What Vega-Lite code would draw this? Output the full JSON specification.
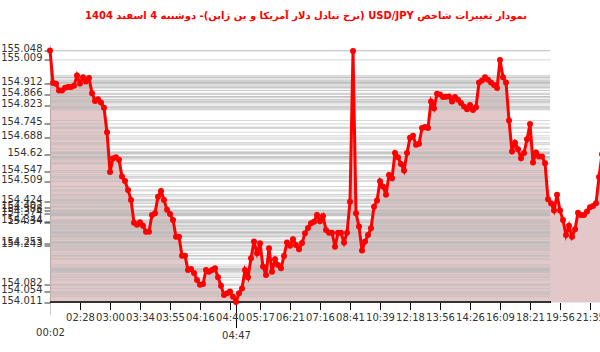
{
  "$schema": "https://vega.github.io/schema/vega-lite/v6.json",
  "width": 550,
  "height": 258,
  "autosize": {"type": "none"},
  "padding": {"left": 50, "top": 44.5, "right": 0, "bottom": 49.5},
  "background": "white",
  "title": {
    "text": "\u202Bنمودار تغییرات شاخص USD/JPY (نرخ تبادل دلار آمریکا و ین ژاپن)- دوشنبه  4 اسفند 1404\u202C",
    "color": "#ff0000",
    "font": "DejaVu Sans",
    "fontSize": 10,
    "fontWeight": "bold",
    "anchor": "middle",
    "baseline": "bottom",
    "dx": -19,
    "offset": 12
  },
  "config": {
    "view": {"stroke": null},
    "axis": {"labelFont": "DejaVu Sans", "labelFontSize": 10, "labelColor": "#333333", "labelOverlap": false}
  },
  "data": {
    "values": [
      {"i": 0, "v": 155.048}, {"i": 1, "v": 154.914}, {"i": 2, "v": 154.911}, {"i": 3, "v": 154.883},
      {"i": 4, "v": 154.883}, {"i": 5, "v": 154.894}, {"i": 6, "v": 154.897}, {"i": 7, "v": 154.897},
      {"i": 8, "v": 154.902}, {"i": 9, "v": 154.945}, {"i": 10, "v": 154.912}, {"i": 11, "v": 154.937},
      {"i": 12, "v": 154.920}, {"i": 13, "v": 154.934}, {"i": 14, "v": 154.872}, {"i": 15, "v": 154.840},
      {"i": 16, "v": 154.847}, {"i": 17, "v": 154.833}, {"i": 18, "v": 154.812}, {"i": 19, "v": 154.711},
      {"i": 20, "v": 154.547}, {"i": 21, "v": 154.604}, {"i": 22, "v": 154.608}, {"i": 23, "v": 154.597},
      {"i": 24, "v": 154.528}, {"i": 25, "v": 154.510}, {"i": 26, "v": 154.473}, {"i": 27, "v": 154.432},
      {"i": 28, "v": 154.338}, {"i": 29, "v": 154.329}, {"i": 30, "v": 154.340}, {"i": 31, "v": 154.325},
      {"i": 32, "v": 154.301}, {"i": 33, "v": 154.301}, {"i": 34, "v": 154.370}, {"i": 35, "v": 154.377},
      {"i": 36, "v": 154.445}, {"i": 37, "v": 154.469}, {"i": 38, "v": 154.432}, {"i": 39, "v": 154.391},
      {"i": 40, "v": 154.374}, {"i": 41, "v": 154.349}, {"i": 42, "v": 154.280}, {"i": 43, "v": 154.280},
      {"i": 44, "v": 154.202}, {"i": 45, "v": 154.202}, {"i": 46, "v": 154.143}, {"i": 47, "v": 154.147},
      {"i": 48, "v": 154.131}, {"i": 49, "v": 154.102}, {"i": 50, "v": 154.082}, {"i": 51, "v": 154.085},
      {"i": 52, "v": 154.143}, {"i": 53, "v": 154.136}, {"i": 54, "v": 154.143}, {"i": 55, "v": 154.150},
      {"i": 56, "v": 154.113}, {"i": 57, "v": 154.078}, {"i": 58, "v": 154.040}, {"i": 59, "v": 154.047},
      {"i": 60, "v": 154.054}, {"i": 61, "v": 154.033}, {"i": 62, "v": 154.011}, {"i": 63, "v": 154.047},
      {"i": 64, "v": 154.067}, {"i": 65, "v": 154.143}, {"i": 66, "v": 154.113}, {"i": 67, "v": 154.191},
      {"i": 68, "v": 154.260}, {"i": 69, "v": 154.212}, {"i": 70, "v": 154.253}, {"i": 71, "v": 154.157},
      {"i": 72, "v": 154.122}, {"i": 73, "v": 154.233}, {"i": 74, "v": 154.136}, {"i": 75, "v": 154.187},
      {"i": 76, "v": 154.164}, {"i": 77, "v": 154.150}, {"i": 78, "v": 154.201}, {"i": 79, "v": 154.256},
      {"i": 80, "v": 154.243}, {"i": 81, "v": 154.270}, {"i": 82, "v": 154.246}, {"i": 83, "v": 154.228},
      {"i": 84, "v": 154.254}, {"i": 85, "v": 154.294}, {"i": 86, "v": 154.316}, {"i": 87, "v": 154.336},
      {"i": 88, "v": 154.342}, {"i": 89, "v": 154.370}, {"i": 90, "v": 154.344}, {"i": 91, "v": 154.366},
      {"i": 92, "v": 154.308}, {"i": 93, "v": 154.297}, {"i": 94, "v": 154.297}, {"i": 95, "v": 154.239},
      {"i": 96, "v": 154.297}, {"i": 97, "v": 154.297}, {"i": 98, "v": 154.256}, {"i": 99, "v": 154.297},
      {"i": 100, "v": 154.424}, {"i": 101, "v": 155.046}, {"i": 102, "v": 154.377}, {"i": 103, "v": 154.322},
      {"i": 104, "v": 154.223}, {"i": 105, "v": 154.260}, {"i": 106, "v": 154.287}, {"i": 107, "v": 154.315},
      {"i": 108, "v": 154.404}, {"i": 109, "v": 154.429}, {"i": 110, "v": 154.509}, {"i": 111, "v": 154.487},
      {"i": 112, "v": 154.453}, {"i": 113, "v": 154.535}, {"i": 114, "v": 154.521}, {"i": 115, "v": 154.625},
      {"i": 116, "v": 154.608}, {"i": 117, "v": 154.580}, {"i": 118, "v": 154.553}, {"i": 119, "v": 154.625},
      {"i": 120, "v": 154.688}, {"i": 121, "v": 154.696}, {"i": 122, "v": 154.659}, {"i": 123, "v": 154.663},
      {"i": 124, "v": 154.728}, {"i": 125, "v": 154.732}, {"i": 126, "v": 154.728}, {"i": 127, "v": 154.838},
      {"i": 128, "v": 154.810}, {"i": 129, "v": 154.869}, {"i": 130, "v": 154.866}, {"i": 131, "v": 154.856},
      {"i": 132, "v": 154.857}, {"i": 133, "v": 154.858}, {"i": 134, "v": 154.838}, {"i": 135, "v": 154.856},
      {"i": 136, "v": 154.845}, {"i": 137, "v": 154.831}, {"i": 138, "v": 154.817}, {"i": 139, "v": 154.806},
      {"i": 140, "v": 154.823}, {"i": 141, "v": 154.803}, {"i": 142, "v": 154.814}, {"i": 143, "v": 154.916},
      {"i": 144, "v": 154.924}, {"i": 145, "v": 154.938}, {"i": 146, "v": 154.927}, {"i": 147, "v": 154.916},
      {"i": 148, "v": 154.906}, {"i": 149, "v": 154.893}, {"i": 150, "v": 155.009}, {"i": 151, "v": 154.938},
      {"i": 152, "v": 154.916}, {"i": 153, "v": 154.759}, {"i": 154, "v": 154.631}, {"i": 155, "v": 154.668},
      {"i": 156, "v": 154.641}, {"i": 157, "v": 154.604}, {"i": 158, "v": 154.625}, {"i": 159, "v": 154.682},
      {"i": 160, "v": 154.745}, {"i": 161, "v": 154.586}, {"i": 162, "v": 154.627}, {"i": 163, "v": 154.611},
      {"i": 164, "v": 154.611}, {"i": 165, "v": 154.583}, {"i": 166, "v": 154.435}, {"i": 167, "v": 154.418},
      {"i": 168, "v": 154.388}, {"i": 169, "v": 154.453}, {"i": 170, "v": 154.388}, {"i": 171, "v": 154.349},
      {"i": 172, "v": 154.287}, {"i": 173, "v": 154.325}, {"i": 174, "v": 154.280}, {"i": 175, "v": 154.311},
      {"i": 176, "v": 154.379}, {"i": 177, "v": 154.370}, {"i": 178, "v": 154.370}, {"i": 179, "v": 154.384},
      {"i": 180, "v": 154.402}, {"i": 181, "v": 154.407}, {"i": 182, "v": 154.418}, {"i": 183, "v": 154.526},
      {"i": 184, "v": 154.62}
    ]
  },
  "layer": [
    {
      "mark": {"type": "area", "color": "#a04848", "opacity": 0.3, "clip": true},
      "encoding": {
        "x": {
          "field": "i", "type": "quantitative", "title": null,
          "scale": {"domain": [0, 183.33], "nice": false, "zero": false},
          "axis": {
            "values": [0, 10, 20, 30, 40, 50, 60, 62, 70, 80, 90, 100, 110, 120, 130, 140, 150, 160, 170, 180],
            "tickCount": 500,
            "labelExpr": "datum.value == 62 ? '04:47' : ['00:02','02:28','03:00','03:34','03:55','04:16','04:40','05:17','06:21','07:16','08:41','10:39','12:18','13:56','14:26','16:09','18:21','19:56','21:35'][datum.value / 10]",
            "labelOverlap": false,
            "labelFlush": false,
            "labelBound": false,
            "grid": false,
            "domain": false,
            "tickColor": {"condition": {"test": "datum.value == 0", "value": "#cccccc"}, "value": "#000000"},
            "tickSize": {"condition": [{"test": "datum.value == 62", "value": 25}, {"test": "datum.value == 0", "value": 12}], "value": 7},
            "labelPadding": {"condition": [{"test": "datum.value == 62", "value": 3}, {"test": "datum.value == 0", "value": 13}], "value": 3}
          }
        },
        "y": {
          "field": "v", "type": "quantitative", "title": null,
          "scale": {"domain": [154.009, 155.0725], "nice": false, "zero": false},
          "axis": {
            "values": [155.048, 155.009, 154.912, 154.866, 154.823, 154.745, 154.688, 154.62, 154.547, 154.509, 154.424, 154.402, 154.388, 154.374, 154.344, 154.34, 154.253, 154.243, 154.082, 154.054, 154.011],
            "tickCount": 500,
            "labelExpr": "'' + datum.value",
            "labelOverlap": false,
            "labelBound": false,
            "grid": false,
            "domainColor": "#cccccc",
            "tickColor": "#333333",
            "tickSize": 6,
            "labelPadding": 2,
            "labelOffset": -2
          }
        }
      }
    },
    {
      "mark": {"type": "rule", "color": "#bbbbbb", "strokeWidth": 1, "opacity": 0.6},
      "encoding": {
        "x": {"datum": 0, "type": "quantitative", "title": null},
        "x2": {"datum": 166.67},
        "y": {"field": "v", "type": "quantitative", "title": null}
      }
    },
    {
      "mark": {"type": "rule", "color": "#333333", "strokeWidth": 1},
      "encoding": {
        "x": {"datum": 0, "type": "quantitative", "title": null},
        "x2": {"datum": 166.67},
        "y": {"datum": 154.011, "type": "quantitative", "title": null}
      }
    },
    {
      "mark": {"type": "line", "color": "#ff0000", "strokeWidth": 3},
      "encoding": {
        "x": {"field": "i", "type": "quantitative", "title": null},
        "y": {"field": "v", "type": "quantitative", "title": null}
      }
    },
    {
      "mark": {"type": "point", "filled": true, "color": "#ff0000", "size": 36, "opacity": 1},
      "encoding": {
        "x": {"field": "i", "type": "quantitative", "title": null},
        "y": {"field": "v", "type": "quantitative", "title": null}
      }
    }
  ]
}
